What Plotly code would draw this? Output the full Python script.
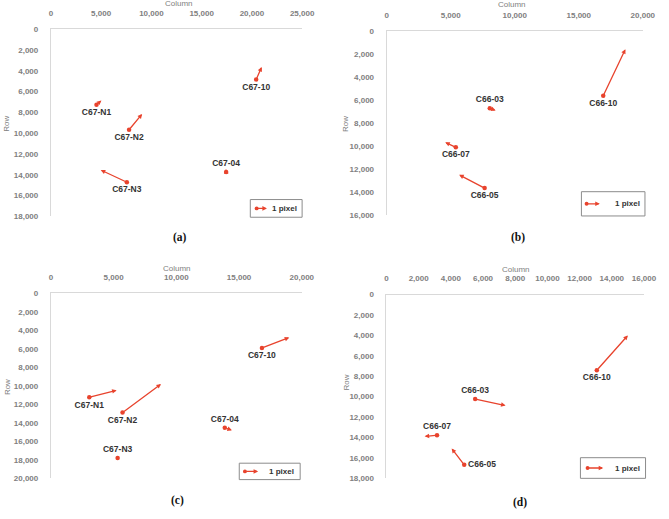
import plotly.graph_objects as go

# ---------------- data ----------------
# Panel (a)
names_a = ["C67-N1", "C67-N2", "C67-N3", "C67-04", "C67-10"]
x0_a = [4540, 7780, 7560, 17440, 20430]
y0_a = [7260, 9670, 14720, 13740, 4830]
x1_a = [5030, 9080, 4960, 17420, 20980]
y1_a = [6850, 8150, 13550, 13460, 3630]

# Panel (b)
names_b = ["C66-03", "C66-05", "C66-07", "C66-10"]
x0_b = [8050, 7650, 5400, 16910]
y0_b = [6690, 13640, 10090, 5610]
x1_b = [8510, 5660, 4570, 18640]
y1_b = [6890, 12480, 9660, 1560]

# Panel (c)
names_c = ["C67-N1", "C67-N2", "C67-N3", "C67-04", "C67-10"]
x0_c = [3060, 5710, 5320, 13860, 16820]
y0_c = [11250, 12890, 17800, 14540, 5910]
x1_c = [5240, 8780, 5320, 14430, 19000]
y1_c = [10480, 9810, 17520, 14800, 4780]

# Panel (d)
names_d = ["C66-03", "C66-05", "C66-07", "C66-10"]
x0_d = [5510, 4830, 3140, 13070]
y0_d = [10230, 16680, 13790, 7410]
x1_d = [7400, 4050, 2370, 15000]
y1_d = [10870, 15070, 13890, 4000]

panel_letters = ["(a)", "(b)", "(c)", "(d)"]
x_max = [25000, 20000, 20000, 16000]
y_max = [18000, 16000, 20000, 18000]
x_dtick = [5000, 5000, 5000, 2000]
y_dtick = [2000, 2000, 2000, 2000]
legend_text = "1 pixel"

# ---------------- styles / layout ----------------
W, H = 669, 519
RED = "#E8432D"
GRAY = "#808080"
LBL = "#333333"

pos_a = ["bottom center", "bottom center", "bottom center", "top center", "bottom center"]
pos_b = ["top center", "bottom center", "bottom center", "bottom center"]
pos_c = ["bottom center", "bottom center", "top center", "top center", "bottom center"]
pos_d = ["top center", "middle right", "top center", "bottom center"]


def px(x):
    return x / W


def py(y):
    return 1 - y / H


# plot-area boxes in pixels: (left, top, right, bottom)
boxes = [
    (50, 25.7, 307, 216),
    (393.5, 27.7, 655.5, 215),
    (50, 294.3, 306.7, 482.7),
    (393.3, 295.7, 656.7, 482.7),
]
col_title_pos = [(181, -1), (522, 0), (179, 269), (526, 270)]
row_title_pos = [(5, 122), (352, 122), (5, 390), (352, 385)]
letter_pos = [(182, 238), (528, 238), (180, 505), (530, 507)]
# legend boxes: (left, top, right, bottom, arrow tail x, arrow head x, text centre x)
leg = [
    (254, 199, 307, 217, 260.5, 271, 289),
    (592.7, 191, 657.7, 215.7, 598, 611.5, 640),
    (242.7, 467.3, 305, 484, 248.5, 262, 286),
    (591.7, 461.7, 658.3, 482.7, 599, 615, 639.5),
]

panels = [
    (names_a, x0_a, y0_a, x1_a, y1_a, pos_a),
    (names_b, x0_b, y0_b, x1_b, y1_b, pos_b),
    (names_c, x0_c, y0_c, x1_c, y1_c, pos_c),
    (names_d, x0_d, y0_d, x1_d, y1_d, pos_d),
]

fig = go.Figure()
annotations = []
shapes = []
layout_axes = {}

tickfont = dict(family="Liberation Sans", size=8, color=GRAY, weight="bold")

for i, (names, xs, ys, xe, ye, pos) in enumerate(panels):
    k = "" if i == 0 else str(i + 1)
    xref, yref = "x" + k, "y" + k
    L, T, R, B = boxes[i]

    layout_axes["xaxis" + k] = dict(
        domain=[px(L), px(R)], range=[0, x_max[i]], dtick=x_dtick[i], tick0=0,
        side="top", anchor=yref, showgrid=False, zeroline=False,
        showline=True, linecolor="#d9d9d9", linewidth=1,
        tickformat=",d", tickfont=tickfont, ticks="", ticklabelstandoff=9,
        fixedrange=True,
    )
    layout_axes["yaxis" + k] = dict(
        domain=[py(B), py(T)], range=[y_max[i], 0], dtick=y_dtick[i], tick0=0,
        anchor=xref, showgrid=False, zeroline=False,
        showline=True, linecolor="#d9d9d9", linewidth=1,
        tickformat=",d", tickfont=tickfont, ticks="", ticklabelstandoff=10,
        fixedrange=True,
    )

    fig.add_trace(go.Scatter(
        x=xs, y=ys, xaxis=xref, yaxis=yref, mode="markers+text",
        text=names, textposition=pos,
        textfont=dict(family="Liberation Sans", size=8.5, color=LBL, weight="bold"),
        marker=dict(size=4.5, color=RED), cliponaxis=False, showlegend=False,
        hoverinfo="skip",
    ))

    for a, b, c, d in zip(xs, ys, xe, ye):
        annotations.append(dict(
            x=c, y=d, ax=a, ay=b, xref=xref, yref=yref, axref=xref, ayref=yref,
            text="", showarrow=True, arrowhead=2, arrowsize=0.7, arrowwidth=1.3,
            arrowcolor=RED, standoff=0, startstandoff=0,
        ))

    # axis titles
    cx, cy = col_title_pos[i]
    annotations.append(dict(x=px(cx), y=py(cy), xref="paper", yref="paper", text="Column",
                            showarrow=False, font=dict(family="Liberation Sans", size=8, color=GRAY),
                            xanchor="center", yanchor="middle"))
    rx, ry = row_title_pos[i]
    annotations.append(dict(x=px(rx), y=py(ry), xref="paper", yref="paper", text="Row",
                            showarrow=False, textangle=-90,
                            font=dict(family="Liberation Sans", size=8, color=GRAY),
                            xanchor="center", yanchor="middle"))
    # panel letter
    lx, ly = letter_pos[i]
    annotations.append(dict(x=px(lx), y=py(ly), xref="paper", yref="paper", text=panel_letters[i],
                            showarrow=False, font=dict(family="Liberation Serif", size=11.5, color="#111111",
                                                       weight="bold"),
                            xanchor="center", yanchor="middle"))

    # legend box
    l0, t0, r0, b0, tail, head, tcx = leg[i]
    ym = (t0 + b0) / 2
    shapes.append(dict(type="rect", xref="paper", yref="paper",
                       x0=px(l0), x1=px(r0), y0=py(b0), y1=py(t0),
                       line=dict(color="#8c8c8c", width=1), fillcolor="white", layer="above"))
    annotations.append(dict(x=px(head), y=py(ym), xref="paper", yref="paper",
                            ax=-(head - tail), ay=0, text="", showarrow=True, arrowhead=2,
                            arrowsize=0.7, arrowwidth=1.3, arrowcolor=RED, standoff=0))
    shapes.append(dict(type="circle", xref="paper", yref="paper",
                       x0=px(tail - 2), x1=px(tail + 2), y0=py(ym + 2), y1=py(ym - 2),
                       fillcolor=RED, line=dict(width=0), layer="above"))
    annotations.append(dict(x=px(tcx), y=py(ym), xref="paper", yref="paper", text=legend_text,
                            showarrow=False, font=dict(family="Liberation Sans", size=8, color=LBL,
                                                       weight="bold"),
                            xanchor="center", yanchor="middle"))

fig.update_layout(
    width=W, height=H, margin=dict(l=0, r=0, t=0, b=0),
    paper_bgcolor="white", plot_bgcolor="white",
    showlegend=False, annotations=annotations, shapes=shapes,
    **layout_axes,
)

fig.write_html("out.html", config={"displayModeBar": False})
